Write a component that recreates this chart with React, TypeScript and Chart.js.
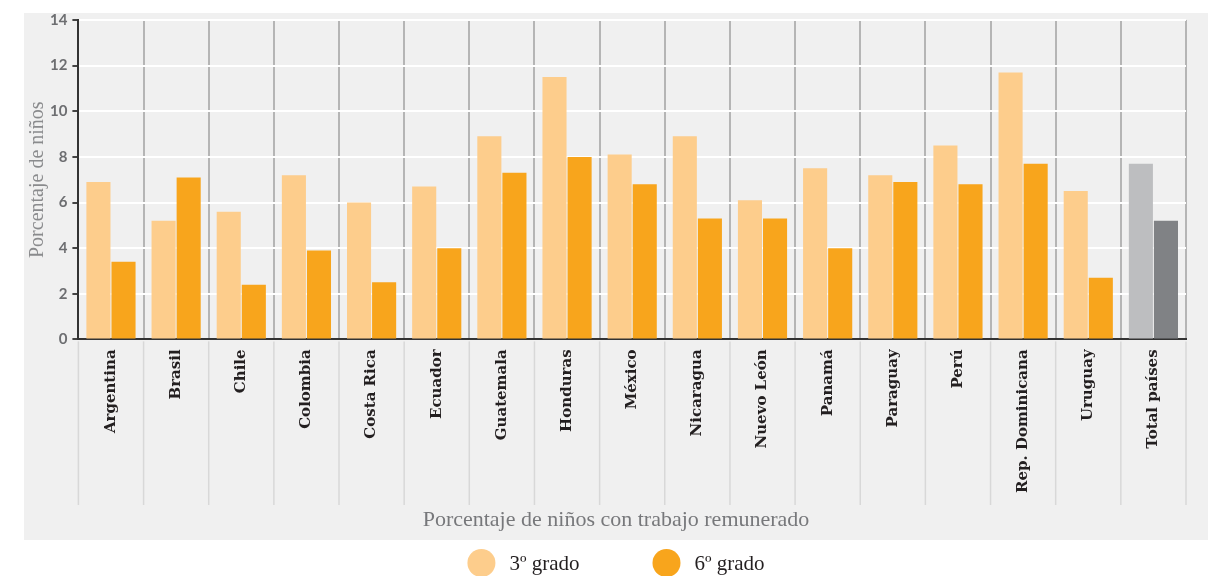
import React, { useEffect, useRef } from "react";
import { Chart, registerables } from "chart.js";

Chart.register(...registerables);

const categories = [
  "Argentina", "Brasil", "Chile", "Colombia", "Costa Rica", "Ecuador", "Guatemala",
  "Honduras", "México", "Nicaragua", "Nuevo León", "Panamá", "Paraguay", "Perú",
  "Rep. Dominicana", "Uruguay", "Total países",
];
const grade3 = [6.9, 5.2, 5.6, 7.2, 6.0, 6.7, 8.9, 11.5, 8.1, 8.9, 6.1, 7.5, 7.2, 8.5, 11.7, 6.5, 7.7];
const grade6 = [3.4, 7.1, 2.4, 3.9, 2.5, 4.0, 7.3, 8.0, 6.8, 5.3, 5.3, 4.0, 6.9, 6.8, 7.7, 2.7, 5.2];
const seriesLabels = ["3º grado", "6º grado"];
const yTitle = "Porcentaje de niños";
const xTitle = "Porcentaje de niños con trabajo remunerado";

const LIGHT = "#fdcd8c";
const ORANGE = "#f8a51c";
const GRAY_L = "#bdbec0";
const GRAY_D = "#808285";
const LEGEND_COLORS = [LIGHT, ORANGE];

const PANEL_LEFT = 24;
const PANEL_RIGHT_GAP = 6;
const PANEL_BOTTOM = 540;

const panelPlugin = {
  id: "panel",
  beforeDraw(chart: any) {
    const { ctx, width, height, chartArea } = chart;
    ctx.save();
    ctx.fillStyle = "#ffffff";
    ctx.fillRect(0, 0, width, height);
    ctx.fillStyle = "#f0f0f0";
    const top = chartArea.top - 7;
    ctx.fillRect(PANEL_LEFT, top, width - PANEL_LEFT - PANEL_RIGHT_GAP, PANEL_BOTTOM - top);
    ctx.restore();
  },
  afterDraw(chart: any) {
    const { ctx, width } = chart;
    const xs = chart.scales.x;
    const n = categories.length;
    const panelCenter = (PANEL_LEFT + width - PANEL_RIGHT_GAP) / 2;
    ctx.save();
    ctx.strokeStyle = "#d8d8d8";
    ctx.lineWidth = 1.5;
    for (let i = 0; i <= n; i++) {
      const x = xs.left + (i * xs.width) / n;
      ctx.beginPath();
      ctx.moveTo(x, xs.top + 2);
      ctx.lineTo(x, xs.bottom + 2);
      ctx.stroke();
    }
    // x-axis title, centred on the panel
    ctx.font = "22px 'Liberation Serif'";
    ctx.fillStyle = "#77787b";
    ctx.textAlign = "center";
    ctx.textBaseline = "middle";
    ctx.fillText(xTitle, panelCenter, 520);
    // legend
    ctx.font = "21px 'Liberation Serif'";
    const r = 14;
    const gapText = 14;
    const gapItem = 73;
    const labels = chart.data.datasets.map((d: any) => d.label as string);
    const widths = labels.map((t: string) => ctx.measureText(t).width);
    let total = 0;
    widths.forEach((w: number, i: number) => {
      total += 2 * r + gapText + w + (i < widths.length - 1 ? gapItem : 0);
    });
    let x = panelCenter - total / 2;
    const cy = 563;
    labels.forEach((t: string, i: number) => {
      ctx.fillStyle = LEGEND_COLORS[i];
      ctx.beginPath();
      ctx.arc(x + r, cy, r, 0, Math.PI * 2);
      ctx.fill();
      ctx.fillStyle = "#231f20";
      ctx.textBaseline = "middle";
      ctx.textAlign = "left";
      ctx.fillText(t, x + 2 * r + gapText, cy + 1);
      x += 2 * r + gapText + widths[i] + gapItem;
    });
    ctx.restore();
  },
};

export default function App() {
  const ref = useRef<HTMLCanvasElement | null>(null);
  useEffect(() => {
    if (!ref.current) return;
    const last = categories.length - 1;
    const c3 = categories.map((_, i) => (i === last ? GRAY_L : LIGHT));
    const c6 = categories.map((_, i) => (i === last ? GRAY_D : ORANGE));
    const chart = new Chart(ref.current, {
      type: "bar",
      data: {
        labels: categories,
        datasets: [
          { label: seriesLabels[0], data: grade3, backgroundColor: c3 },
          { label: seriesLabels[1], data: grade6, backgroundColor: c6 },
        ],
      },
      plugins: [panelPlugin],
      options: {
        animation: false,
        responsive: false,
        maintainAspectRatio: false,
        datasets: {
          bar: { categoryPercentage: 0.77, barPercentage: 0.96 },
        },
        layout: { padding: { left: 24, top: 20, right: 28, bottom: 73 } },
        plugins: {
          legend: { display: false },
          tooltip: { enabled: false },
        },
        scales: {
          x: {
            grid: { color: "#b5b5b5", lineWidth: 2, drawTicks: false },
            border: { color: "#333333", width: 2 },
            ticks: {
              autoSkip: false,
              maxRotation: 90,
              minRotation: 90,
              padding: 10,
              color: "#231f20",
              font: { family: "DejaVu Serif", size: 15, weight: "bold" },
            },
          },
          y: {
            min: 0,
            max: 14,
            ticks: {
              stepSize: 2,
              color: "#6d6e71",
              padding: 5,
              font: { family: "Lato", size: 15, weight: "bold" },
            },
            grid: { color: "#ffffff", lineWidth: 2, tickColor: "#444444", tickLength: 6 },
            border: { color: "#333333", width: 2 },
            title: {
              display: true,
              text: yTitle,
              color: "#8a8b8d",
              font: { family: "Liberation Serif", size: 20 },
              padding: { top: 2, bottom: -5 },
            },
          },
        },
      },
    });
    return () => chart.destroy();
  }, []);
  return (
    <div style={{ position: "absolute", left: 0, top: 0, width: 1214, height: 576 }}>
      <canvas ref={ref} width={1214} height={576} style={{ display: "block" }} />
    </div>
  );
}
